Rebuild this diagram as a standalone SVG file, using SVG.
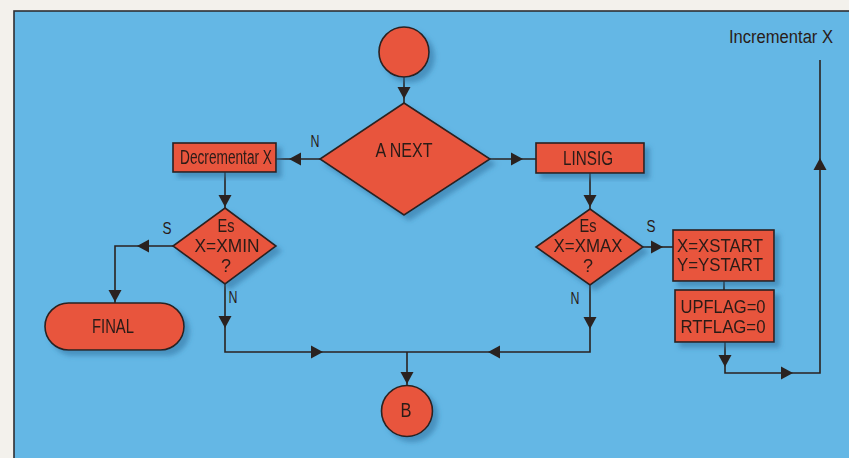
<svg xmlns="http://www.w3.org/2000/svg" xmlns:xlink="http://www.w3.org/1999/xlink" width="849" height="458" viewBox="0 0 849 458">
<defs>
<filter id="sh" x="-20%" y="-20%" width="150%" height="150%">
<feDropShadow dx="5" dy="5" stdDeviation="2.5" flood-color="#2d6f9e" flood-opacity="0.55"/>
</filter>
<path id="ah" d="M0,0 L-12,-6.5 L-12,6.5 Z" fill="#2a2220"/>
</defs>
<style>
.n{fill:#e8543e;stroke:#2a2220;stroke-width:1.6}
.t{font-family:"Liberation Sans",Arial,sans-serif;font-size:20px;fill:#2a1c18;text-anchor:middle}
.s{font-size:18px}
.c{fill:none;stroke:#2a2220;stroke-width:1.6}
.l{font-family:"Liberation Sans",Arial,sans-serif;font-size:16px;fill:#2a1c18;text-anchor:middle}
</style>
<rect x="0" y="0" width="849" height="458" fill="#f3f1ec"/>
<rect x="14" y="11" width="840" height="460" fill="#64b7e5" stroke="#2f2f33" stroke-width="1.6"/>

<g id="connectors">
<path class="c" d="M404,77 V103"/>
<path class="c" d="M320,159 H276"/>
<path class="c" d="M490,159 H536"/>
<path class="c" d="M225,172 V208"/>
<path class="c" d="M173,246 H115 V303"/>
<path class="c" d="M225,284 V352 H590 V285"/>
<path class="c" d="M407,352 V385"/>
<path class="c" d="M590,173 V209"/>
<path class="c" d="M643,247 H673"/>
<path class="c" d="M724,281 V290"/>
<path class="c" d="M725,342 V373 H820 V60"/>
<use xlink:href="#ah" transform="translate(404,99) rotate(90)"/>
<use xlink:href="#ah" transform="translate(289,159) rotate(180)"/>
<use xlink:href="#ah" transform="translate(523,159)"/>
<use xlink:href="#ah" transform="translate(225,207) rotate(90)"/>
<use xlink:href="#ah" transform="translate(137,246) rotate(180)"/>
<use xlink:href="#ah" transform="translate(115,302) rotate(90)"/>
<use xlink:href="#ah" transform="translate(225,328) rotate(90)"/>
<use xlink:href="#ah" transform="translate(323,352)"/>
<use xlink:href="#ah" transform="translate(590,329) rotate(90)"/>
<use xlink:href="#ah" transform="translate(488,352) rotate(180)"/>
<use xlink:href="#ah" transform="translate(407,384) rotate(90)"/>
<use xlink:href="#ah" transform="translate(590,207) rotate(90)"/>
<use xlink:href="#ah" transform="translate(663,247)"/>
<use xlink:href="#ah" transform="translate(725,367) rotate(90)"/>
<use xlink:href="#ah" transform="translate(793,373)"/>
<use xlink:href="#ah" transform="translate(820,158) rotate(-90)"/>
<text class="l" x="315" y="147" textLength="9" lengthAdjust="spacingAndGlyphs">N</text>
<text class="l" x="167" y="234" textLength="9" lengthAdjust="spacingAndGlyphs">S</text>
<text class="l" x="233" y="303" textLength="9" lengthAdjust="spacingAndGlyphs">N</text>
<text class="l" x="651" y="232" textLength="9" lengthAdjust="spacingAndGlyphs">S</text>
<text class="l" x="575" y="304" textLength="9" lengthAdjust="spacingAndGlyphs">N</text>
<text class="t s" x="781" y="43" textLength="104" lengthAdjust="spacingAndGlyphs">Incrementar X</text>
</g>

<g id="start" filter="url(#sh)">
<circle class="n" cx="404" cy="52" r="25"/>
</g>

<g id="anext" filter="url(#sh)">
<polygon class="n" points="404,103 490,159 404,215 320,159"/>
<text class="t" x="404" y="157" textLength="57" lengthAdjust="spacingAndGlyphs">A NEXT</text>
</g>

<g id="decrementar" filter="url(#sh)">
<rect class="n" x="173" y="143" width="103" height="29"/>
<text class="t" x="226" y="164" textLength="92" lengthAdjust="spacingAndGlyphs">Decrementar X</text>
</g>

<g id="xmin" filter="url(#sh)">
<polygon class="n" points="225,208 276,246 225,284 173,246"/>
<text class="t s" x="226" y="232" textLength="17" lengthAdjust="spacingAndGlyphs">Es</text>
<text class="t s" x="227" y="252" textLength="65" lengthAdjust="spacingAndGlyphs">X=XMIN</text>
<text class="t s" x="226" y="272">?</text>
</g>

<g id="final" filter="url(#sh)">
<rect class="n" x="45" y="303" width="139" height="47" rx="23.5"/>
<text class="t" x="113" y="333" textLength="42" lengthAdjust="spacingAndGlyphs">FINAL</text>
</g>

<g id="linsig" filter="url(#sh)">
<rect class="n" x="536" y="143" width="108" height="30"/>
<text class="t" x="588" y="165" textLength="50" lengthAdjust="spacingAndGlyphs">LINSIG</text>
</g>

<g id="xmax" filter="url(#sh)">
<polygon class="n" points="590,209 643,247 590,285 536,247"/>
<text class="t s" x="588" y="232" textLength="17" lengthAdjust="spacingAndGlyphs">Es</text>
<text class="t s" x="588" y="252" textLength="69" lengthAdjust="spacingAndGlyphs">X=XMAX</text>
<text class="t s" x="588" y="272">?</text>
</g>

<g id="xstart" filter="url(#sh)">
<rect class="n" x="673" y="230" width="101" height="51"/>
<text class="t s" x="720" y="252" textLength="86" lengthAdjust="spacingAndGlyphs">X=XSTART</text>
<text class="t s" x="720" y="271" textLength="86" lengthAdjust="spacingAndGlyphs">Y=YSTART</text>
</g>

<g id="flags" filter="url(#sh)">
<rect class="n" x="675" y="290" width="99" height="52"/>
<text class="t s" x="723" y="313" textLength="85" lengthAdjust="spacingAndGlyphs">UPFLAG=0</text>
<text class="t s" x="723" y="333" textLength="85" lengthAdjust="spacingAndGlyphs">RTFLAG=0</text>
</g>

<g id="b" filter="url(#sh)">
<circle class="n" cx="407" cy="411" r="25.5"/>
<text class="t" x="406" y="417" textLength="11" lengthAdjust="spacingAndGlyphs">B</text>
</g>
</svg>
